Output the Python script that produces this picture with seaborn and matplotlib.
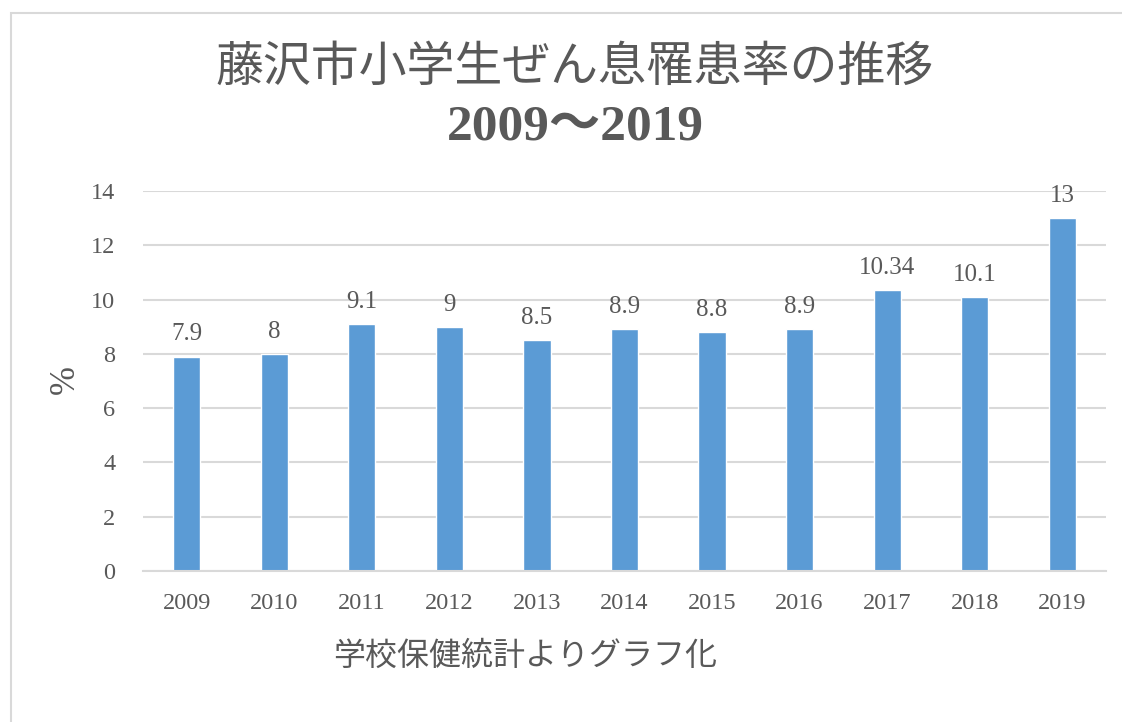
import matplotlib
matplotlib.use("Agg")
import matplotlib.pyplot as plt
import seaborn as sns
import pandas as pd
from matplotlib.patches import Rectangle

years = ["2009", "2010", "2011", "2012", "2013", "2014", "2015", "2016", "2017", "2018", "2019"]
rates = [7.9, 8, 9.1, 9, 8.5, 8.9, 8.8, 8.9, 10.34, 10.1, 13]
labels = ["7.9", "8", "9.1", "9", "8.5", "8.9", "8.8", "8.9", "10.34", "10.1", "13"]
yticks = [0, 2, 4, 6, 8, 10, 12, 14]

title1 = "藤沢市小学生ぜん息罹患率の推移"
title2 = "2009〜2019"
ylabel = "%"
source = "学校保健統計よりグラフ化"

sns.set_theme(style="white")
serif = ["Liberation Serif", "DejaVu Serif"]
jp = ["Liberation Serif", "Noto Sans CJK JP", "DejaVu Sans"]
plt.rcParams["font.family"] = jp

txt = "#595959"
grid = "#D9D9D9"
blue = "#5B9BD5"

df = pd.DataFrame({"year": years, "rate": rates})

fig = plt.figure(figsize=(11.22, 7.22), dpi=100)
ax = fig.add_axes([0.1275, 0.2091, 0.8582, 0.5264])

sns.barplot(data=df, x="year", y="rate", color=blue, saturation=1, width=0.31, ax=ax)

ax.set_ylim(0, 14)
ax.set_yticks(yticks)
ax.set_xlim(-0.5, len(years) - 0.5)
ax.yaxis.grid(True, color=grid, linewidth=1.5)
ax.set_axisbelow(True)
for s in ["top", "right", "left"]:
    ax.spines[s].set_visible(False)
ax.spines["bottom"].set_color(grid)
ax.spines["bottom"].set_linewidth(1.5)
ax.tick_params(length=0, labelcolor=txt, labelsize=17.5)
ax.tick_params(axis="x", pad=16)
ax.tick_params(axis="y", pad=20)
for t in ax.get_xticklabels() + ax.get_yticklabels():
    t.set_family(serif)
ax.set_xlabel("")
ax.set_ylabel("")

# value labels over each bar
ax.bar_label(ax.containers[0], labels=labels, padding=8, fontsize=18,
             color=txt, family=serif)

fig.text(575 / 1122, 1 - 68 / 722, title1, ha="center", va="center",
         fontsize=34.5, color=txt)
fig.text(575 / 1122, 1 - 128 / 722, title2, ha="center", va="center",
         fontsize=37, color=txt, weight="bold")
fig.text(65 / 1122, 1 - 380 / 722, ylabel, rotation=90, ha="center",
         va="center", fontsize=25, color=txt, family=serif)
fig.text(525 / 1122, 1 - 657 / 722, source, ha="center", va="center",
         fontsize=23, color=txt)

# chart frame (right and bottom edges are cut off in the original)
top = 1 - 13 / 722
fig.add_artist(Rectangle((11 / 1122, -0.2), 1.5, top + 0.2,
                         transform=fig.transFigure, fill=False,
                         edgecolor=grid, linewidth=1.5))

fig.savefig("out.png", dpi=100)
